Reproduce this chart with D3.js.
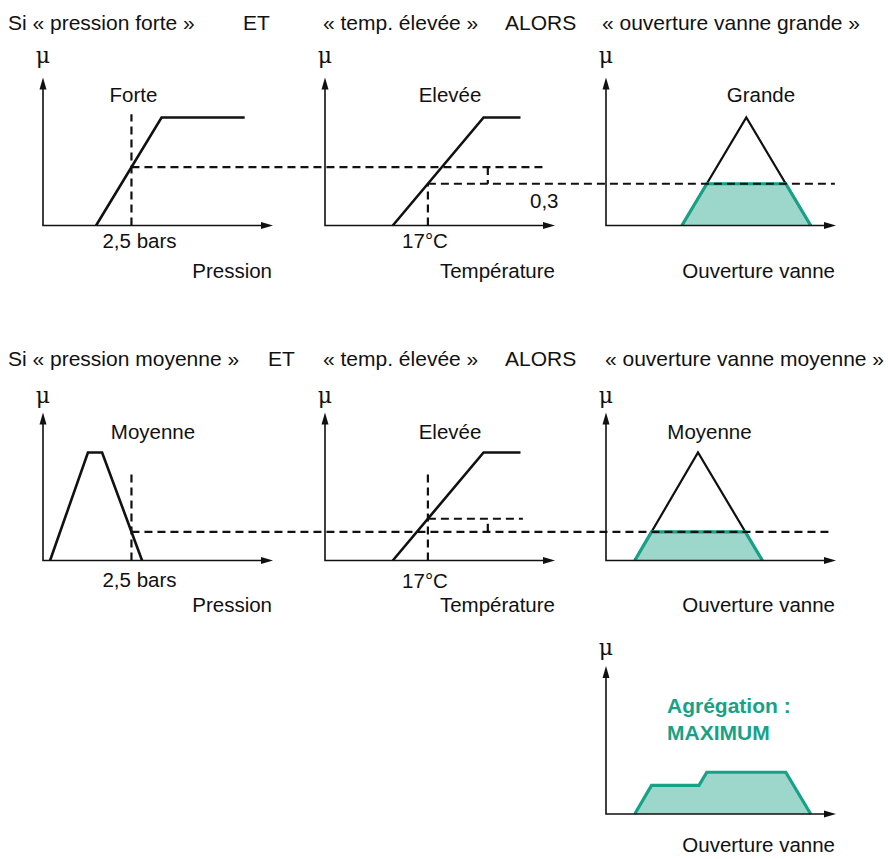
<!DOCTYPE html>
<html>
<head>
<meta charset="utf-8">
<script src="https://cdn.jsdelivr.net/npm/d3@7"></script>
<style>
  body { margin: 0; background: #fff; }
  text { font-family: "Liberation Sans", Arial, sans-serif; fill: #111; }
</style>
</head>
<body>
<div id="chart"></div>
<script>
// Membership functions, [value, mu]
let pressionForte = [[1.5, 0], [3.35, 1], [5.7, 1]];
let pressionMoyenne = [[0.2, 0], [1.27, 1], [1.67, 1], [2.8, 0]];
let tempElevee = [[11.2, 0], [26.2, 1], [32.3, 1]];
let vanneGrande = [[33, 0], [61, 1], [89, 0]];
let vanneMoyenne = [[12.5, 0], [40, 1], [68, 0]];

// Measured inputs
let pressionMesure = 2.5;   // bars
let tempMesure = 17;        // °C

// Domains of each axis
let pressionDomain = [0, 6.5];
let tempDomain = [0, 38];
let vanneDomain = [0, 100];

let width = 888, height = 859;
let teal = "#17a287", tealFill = "#9dd6cb";

let svg = d3.select("#chart")
    .append("svg")
    .attr("width", width)
    .attr("height", height);

// Layout
let cols = [43, 325, 606];
let rows = [225.5, 560.5, 814];
let axisLen = 230, muPx = 108, axisUp = 148;

function xScale(col, domain) {
    return d3.scaleLinear().domain(domain).range([cols[col], cols[col] + axisLen]);
}
function yScale(row) {
    return d3.scaleLinear().domain([0, 1]).range([rows[row], rows[row] - muPx]);
}

let xP = xScale(0, pressionDomain), xT = xScale(1, tempDomain), xV = xScale(2, vanneDomain);
let yR = [yScale(0), yScale(1), yScale(2)];

// membership evaluation
function mu(shape, v) {
    if (v <= shape[0][0] || v >= shape[shape.length - 1][0]) {
        return v >= shape[shape.length - 1][0] ? shape[shape.length - 1][1] : 0;
    }
    for (let i = 1; i < shape.length; i++) {
        let [x0, y0] = shape[i - 1], [x1, y1] = shape[i];
        if (v <= x1) return y0 + (v - x0) / (x1 - x0) * (y1 - y0);
    }
    return 0;
}

// clip a membership function at a level (min implication)
function clip(shape, level) {
    let out = [];
    shape.forEach((p, i) => {
        if (i > 0) {
            let q = shape[i - 1];
            if ((q[1] - level) * (p[1] - level) < 0) {
                let t = (level - q[1]) / (p[1] - q[1]);
                out.push([q[0] + t * (p[0] - q[0]), level]);
            }
        }
        if (p[1] <= level) out.push(p);
    });
    return out;
}

// max aggregation of two clipped shapes
function aggregate(a, b) {
    let xs = Array.from(new Set(a.concat(b).map(d => d[0]))).sort((m, n) => m - n);
    let pts = [];
    xs.forEach((x, i) => {
        if (i > 0) {
            let px = xs[i - 1];
            let d0 = mu(a, px) - mu(b, px), d1 = mu(a, x) - mu(b, x);
            if (d0 * d1 < 0) {
                let cx = px + d0 / (d0 - d1) * (x - px);
                pts.push([cx, Math.max(mu(a, cx), mu(b, cx))]);
            }
        }
        pts.push([x, Math.max(mu(a, x), mu(b, x))]);
    });
    return pts;
}

let muP1 = mu(pressionForte, pressionMesure);
let muT = mu(tempElevee, tempMesure);
let level1 = Math.min(muP1, muT);
let muP2 = mu(pressionMoyenne, pressionMesure);
let level2 = Math.min(muP2, muT);

let clipGrande = clip(vanneGrande, level1);
let clipMoyenne = clip(vanneMoyenne, level2);
let agg = aggregate(clipGrande, clipMoyenne);

// drawing helpers
function curve(shape, xs, ys, color, w) {
    svg.append("path")
        .attr("d", d3.line().x(d => xs(d[0])).y(d => ys(d[1]))(shape))
        .attr("fill", "none")
        .attr("stroke", color)
        .attr("stroke-width", w)
        .attr("stroke-linejoin", "miter");
}
function area(shape, xs, ys) {
    svg.append("path")
        .attr("d", d3.line().x(d => xs(d[0])).y(d => ys(d[1]))(shape) + "Z")
        .attr("fill", tealFill);
}
function dash(x1, y1, x2, y2) {
    svg.append("line")
        .attr("x1", x1).attr("y1", y1).attr("x2", x2).attr("y2", y2)
        .attr("stroke", "#111")
        .attr("stroke-width", 2.2)
        .attr("stroke-dasharray", "8,5");
}
function axes(col, row) {
    let x0 = cols[col], y0 = rows[row];
    let g = svg.append("g");
    g.append("path")
        .attr("d", `M${x0},${y0 - axisUp + 8}L${x0},${y0}L${x0 + axisLen - 8},${y0}`)
        .attr("fill", "none").attr("stroke", "#111").attr("stroke-width", 1.6);
    g.append("path")
        .attr("d", `M${x0},${y0 - axisUp}l-3.5,12h7Z`).attr("fill", "#111");
    g.append("path")
        .attr("d", `M${x0 + axisLen},${y0}l-12,-3.5v7Z`).attr("fill", "#111");
}
function label(txt, x, y, anchor, opts = {}) {
    svg.append("text")
        .attr("x", x).attr("y", y)
        .attr("text-anchor", anchor || "start")
        .style("font-size", (opts.size || 20.5) + "px")
        .style("font-weight", opts.bold ? "bold" : null)
        .style("font-family", opts.serif ? "'DejaVu Serif', serif" : null)
        .style("fill", opts.color || null)
        .text(txt);
}

// ---- Row 1 ----
area(clipGrande, xV, yR[0]);
area(clipMoyenne, xV, yR[1]);
area(agg, xV, yR[2]);

curve(pressionForte, xP, yR[0], "#111", 2.6);
curve(tempElevee, xT, yR[0], "#111", 2.6);
curve(vanneGrande, xV, yR[0], "#111", 2.2);
curve(clipGrande, xV, yR[0], teal, 3.2);

dash(xP(pressionMesure), yR[0](0), xP(pressionMesure), yR[0](1.03));
dash(xP(pressionMesure), yR[0](muP1), xT(36.7), yR[0](muP1));
dash(xT(tempMesure), yR[0](0), xT(tempMesure), yR[0](muT));
dash(xT(tempMesure), yR[0](muT), xV(99.5), yR[0](muT));
dash(xT(26.9), yR[0](muP1), xT(26.9), yR[0](muT));

// ---- Row 2 ----
curve(pressionMoyenne, xP, yR[1], "#111", 2.6);
curve(tempElevee, xT, yR[1], "#111", 2.6);
curve(vanneMoyenne, xV, yR[1], "#111", 2.2);
curve(clipMoyenne, xV, yR[1], teal, 3.2);

dash(xP(pressionMesure), yR[1](0), xP(pressionMesure), yR[1](0.8));
dash(xT(tempMesure), yR[1](0), xT(tempMesure), yR[1](0.8));
dash(xP(pressionMesure), yR[1](muP2), xV(97.4), yR[1](muP2));
dash(xT(tempMesure), yR[1](muT), xT(32.7), yR[1](muT));
dash(xT(26.9), yR[1](muP2), xT(26.9), yR[1](muT));

// ---- Row 3 : aggregation ----
curve(agg, xV, yR[2], teal, 3.2);

[[0, 0], [1, 0], [2, 0], [0, 1], [1, 1], [2, 1], [2, 2]].forEach(d => axes(d[0], d[1]));

// Texts
label("Si « pression forte »", 8, 30, "start", { size: 21 });
label("ET", 243, 30, "start", { size: 21 });
label("« temp. élevée »", 323, 30, "start", { size: 21 });
label("ALORS", 505, 30, "start", { size: 21 });
label("« ouverture vanne grande »", 602, 30, "start", { size: 21 });

label("Si « pression moyenne »", 8, 366, "start", { size: 21 });
label("ET", 268, 366, "start", { size: 21 });
label("« temp. élevée »", 323, 366, "start", { size: 21 });
label("ALORS", 505, 366, "start", { size: 21 });
label("« ouverture vanne moyenne »", 605, 366, "start", { size: 21 });

[[0, 63], [1, 63], [2, 63], [0, 403], [1, 403], [2, 403], [2, 655]].forEach(d => {
    label("μ", cols[d[0]], d[1], "middle", { size: 22, serif: true });
});

label("Forte", 133.5, 102, "middle");
label("2,5 bars", 139.5, 248, "middle");
label("Pression", 272, 278, "end");
label("Elevée", 450, 102, "middle");
label("0,3", 530, 208, "start");
label("17°C", 425, 248, "middle");
label("Température", 555, 278, "end");
label("Grande", 761, 102, "middle");
label("Ouverture vanne", 835, 278, "end");

label("Moyenne", 153, 439, "middle");
label("2,5 bars", 139.5, 587, "middle");
label("Pression", 272, 612, "end");
label("Elevée", 450, 439, "middle");
label("17°C", 425, 588, "middle");
label("Température", 555, 612, "end");
label("Moyenne", 709.5, 439, "middle");
label("Ouverture vanne", 835, 612, "end");

label("Agrégation :", 667, 713, "start", { size: 21, bold: true, color: teal });
label("MAXIMUM", 667, 740, "start", { size: 21, bold: true, color: teal });
label("Ouverture vanne", 835, 852, "end");
</script>
</body>
</html>
